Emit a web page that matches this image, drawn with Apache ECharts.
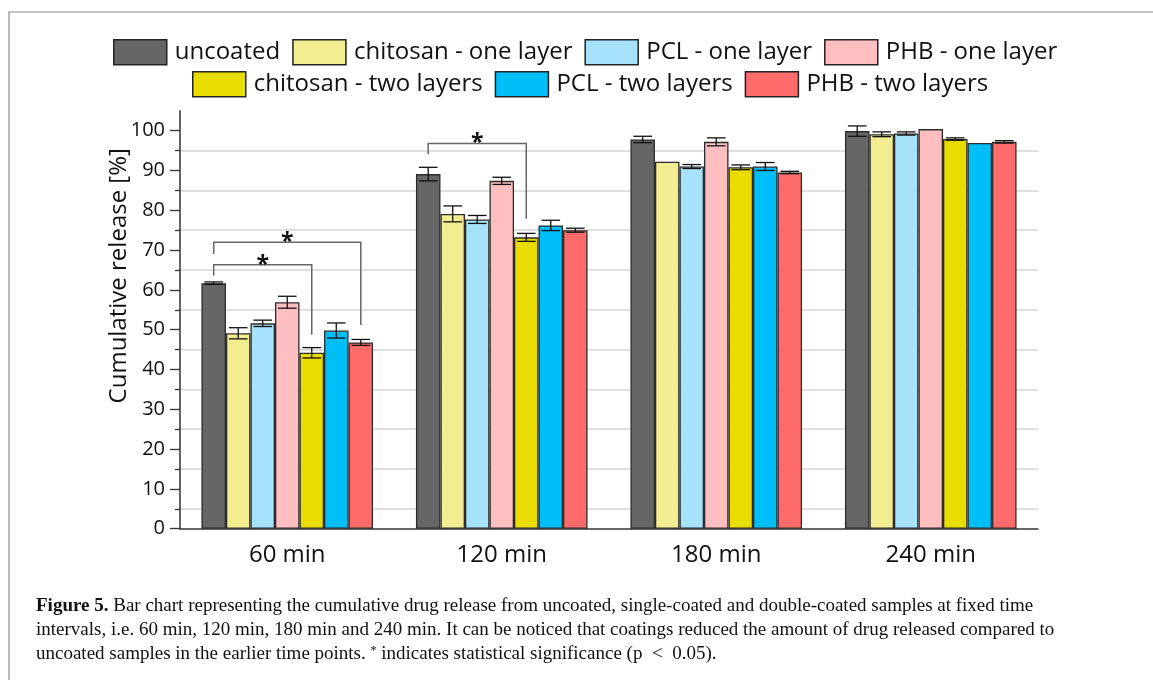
<!DOCTYPE html>
<html>
<head>
<meta charset="utf-8">
<script src="https://cdn.jsdelivr.net/npm/echarts@6/dist/echarts.min.js"></script>
<style>
  html, body { margin: 0; padding: 0; background: #fff; }
  #chart { width: 1153px; height: 680px; }
</style>
</head>
<body>
<div id="chart"></div>
<script>
// time points
const categories = ["60 min", "120 min", "180 min", "240 min"];

const seriesNames = [
  "uncoated",
  "chitosan - one layer",
  "PCL - one layer",
  "PHB - one layer",
  "chitosan - two layers",
  "PCL - two layers",
  "PHB - two layers",
];
const colors = ["#666666", "#f3ed92", "#a6e3fa", "#ffbfc0", "#e9dc00", "#00bef8", "#fd6b6b"];

// cumulative release [%] and error (+/-)
const uncoated = [61.7, 89.1, 97.8, 99.9];
const uncoatedErr = [0.3, 1.7, 0.8, 1.3];
const chitosanOne = [49.1, 79.1, 92.2, 99.1];
const chitosanOneErr = [1.4, 2.0, 0, 0.6];
const pclOne = [51.6, 77.7, 91.0, 99.3];
const pclOneErr = [0.8, 1.0, 0.5, 0.4];
const phbOne = [56.9, 87.4, 97.2, 100.4];
const phbOneErr = [1.5, 0.9, 1.0, 0];
const chitosanTwo = [44.2, 73.2, 90.8, 97.9];
const chitosanTwoErr = [1.3, 1.0, 0.6, 0.3];
const pclTwo = [49.8, 76.2, 91.0, 96.9];
const pclTwoErr = [1.9, 1.3, 1.0, 0];
const phbTwo = [46.8, 75.0, 89.5, 97.2];
const phbTwoErr = [0.75, 0.5, 0.3, 0.3];

const values = [uncoated, chitosanOne, pclOne, phbOne, chitosanTwo, pclTwo, phbTwo];
const errors = [uncoatedErr, chitosanOneErr, pclOneErr, phbOneErr, chitosanTwoErr, pclTwoErr, phbTwoErr];

// significance brackets: [category, left series, right series, top, left end, right end]
const brackets = [
  [0, 0, 6, 72.0, 69.0, 51.2],
  [0, 0, 4, 66.3, 63.6, 48.7],
  [1, 0, 4, 96.8, 94.1, 77.9],
];

// y ticks
const majorTicks = [0, 10, 20, 30, 40, 50, 60, 70, 80, 90, 100];
const minorTicks = [5, 15, 25, 35, 45, 55, 65, 75, 85, 95];

const FONT = "Open Sans";
const nSeries = seriesNames.length;
const barShare = 0.8; // barCategoryGap 20%

function barCenter(api, cat, s) {
  const band = api.size([1, 0])[0];
  const bw = (band * barShare) / nSeries;
  const c = api.coord([cat, 0])[0];
  return { x: c + (s - (nSeries - 1) / 2) * bw, bw: bw };
}

const barSeries = seriesNames.map((name, i) => ({
  name: name,
  type: "bar",
  data: values[i],
  barGap: "0%",
  barCategoryGap: "20%",
  itemStyle: { color: colors[i], borderColor: "#2b2b2b", borderWidth: 1.3 },
  z: 2,
}));

const errSeries = seriesNames.map((name, i) => ({
  type: "custom",
  silent: true,
  z: 4,
  data: values[i].map((v, k) => [k, v, errors[i][k]]),
  renderItem: function (params, api) {
    const cat = api.value(0), v = api.value(1), e = api.value(2);
    if (!e) return;
    const p = barCenter(api, cat, i);
    const hi = api.coord([cat, v + e])[1];
    const lo = api.coord([cat, v - e])[1];
    const half = p.bw * 0.38;
    const st = { stroke: "#111", lineWidth: 1.3 };
    return {
      type: "group",
      children: [
        { type: "line", shape: { x1: p.x, y1: hi, x2: p.x, y2: lo }, style: st },
        { type: "line", shape: { x1: p.x - half, y1: hi, x2: p.x + half, y2: hi }, style: st },
        { type: "line", shape: { x1: p.x - half, y1: lo, x2: p.x + half, y2: lo }, style: st },
      ],
    };
  },
}));

const bracketSeries = {
  type: "custom",
  silent: true,
  z: 5,
  data: brackets,
  renderItem: function (params, api) {
    const cat = api.value(0);
    const xl = barCenter(api, cat, api.value(1)).x;
    const xr = barCenter(api, cat, api.value(2)).x;
    const top = api.coord([cat, api.value(3)])[1];
    const yl = api.coord([cat, api.value(4)])[1];
    const yr = api.coord([cat, api.value(5)])[1];
    return {
      type: "group",
      children: [
        {
          type: "polyline",
          shape: { points: [[xl, yl], [xl, top], [xr, top], [xr, yr]] },
          style: { stroke: "#666", lineWidth: 1.5, fill: null },
        },
        {
          type: "text",
          x: (xl + xr) / 2,
          y: top + 12,
          style: {
            text: "*",
            fontSize: 23,
            fontWeight: "bold",
            fontFamily: FONT,
            fill: "#111",
            align: "center",
            verticalAlign: "bottom",
          },
        },
      ],
    };
  },
};

// hide the split line at the very top of the axis
const splitColors = [];
for (let v = 0; v <= 105; v += 5) splitColors.push(v > 100 ? "rgba(0,0,0,0)" : "#d4d4d4");

const legendCommon = {
  icon: "rect",
  itemWidth: 53,
  itemHeight: 25,
  itemGap: 12,
  orient: "horizontal",
  selectedMode: false,
  itemStyle: { borderColor: "#222", borderWidth: 1.5 },
  textStyle: { fontFamily: FONT, fontSize: 24, color: "#111", padding: [0, 0, 0, 3] },
};

const option = {
  backgroundColor: "#fff",
  animation: false,
  textStyle: { fontFamily: FONT },
  legend: [
    Object.assign({}, legendCommon, { data: seriesNames.slice(0, 4), left: 108, top: 34 }),
    Object.assign({}, legendCommon, { data: seriesNames.slice(4), left: 187, top: 66 }),
  ],
  grid: { left: 180, right: 115, top: 110.8, bottom: 680 - 528.7 },
  xAxis: {
    type: "category",
    data: categories,
    axisLine: { lineStyle: { color: "#333", width: 1.5 } },
    axisTick: { alignWithLabel: true, length: 8, lineStyle: { color: "#333", width: 1.3 } },
    axisLabel: { fontFamily: FONT, fontSize: 24, color: "#111", margin: 14 },
    splitLine: { show: false },
  },
  yAxis: [
    {
      type: "value",
      min: 0,
      max: 105,
      interval: 5,
      position: "left",
      name: "Cumulative release [%]",
      nameLocation: "middle",
      nameRotate: 90,
      nameGap: 49,
      nameMoveOverlap: false,
      nameTextStyle: { fontFamily: FONT, fontSize: 24, color: "#111", padding: [0, 0, 0, 88] },
      axisLine: { show: true, lineStyle: { color: "#333", width: 1.5 } },
      axisTick: { show: true, customValues: minorTicks, length: 5, lineStyle: { color: "#333", width: 1.3 } },
      axisLabel: {
        fontFamily: FONT,
        fontSize: 20,
        color: "#111",
        margin: 15,
        formatter: (v) => (v % 10 === 0 && v <= 100 ? String(v) : ""),
      },
      splitLine: { show: true, lineStyle: { color: splitColors, width: 1.5 } },
    },
    {
      type: "value",
      min: 0,
      max: 105,
      interval: 5,
      position: "left",
      axisLine: { show: false },
      axisTick: { show: true, customValues: majorTicks, length: 10, lineStyle: { color: "#333", width: 1.3 } },
      axisLabel: { show: false },
      splitLine: { show: false },
    },
  ],
  series: barSeries.concat(errSeries, [bracketSeries]),
  graphic: [
    {
      type: "rect",
      shape: { x: 9, y: 12, width: 1300, height: 800 },
      style: { fill: null, stroke: "#8a8a8a", lineWidth: 1.2 },
      silent: true,
    },
    {
      type: "text",
      left: 36,
      top: 597,
      style: {
        text: "{b|Figure 5.} Bar chart representing the cumulative drug release from uncoated, single-coated and double-coated samples at fixed time",
        fontFamily: "Liberation Serif",
        fontSize: 19,
        fill: "#111",
        rich: { b: { fontWeight: "bold", fontFamily: "Liberation Serif", fontSize: 19 } },
      },
    },
    {
      type: "text",
      left: 36,
      top: 621,
      style: {
        text: "intervals, i.e. 60 min, 120 min, 180 min and 240 min. It can be noticed that coatings reduced the amount of drug released compared to",
        fontFamily: "Liberation Serif",
        fontSize: 19,
        fill: "#111",
      },
    },
    {
      type: "text",
      left: 36,
      top: 645,
      style: {
        text: "uncoated samples in the earlier time points. {s|*} indicates statistical significance (p  <  0.05).",
        fontFamily: "Liberation Serif",
        fontSize: 19,
        fill: "#111",
        rich: { s: { fontSize: 12, verticalAlign: "top", fontFamily: "Liberation Serif" } },
      },
    },
  ],
};

const myChart = echarts.init(document.getElementById("chart"));
myChart.setOption(option);
window.onresize = function () {
  myChart.resize();
};
</script>
</body>
</html>
